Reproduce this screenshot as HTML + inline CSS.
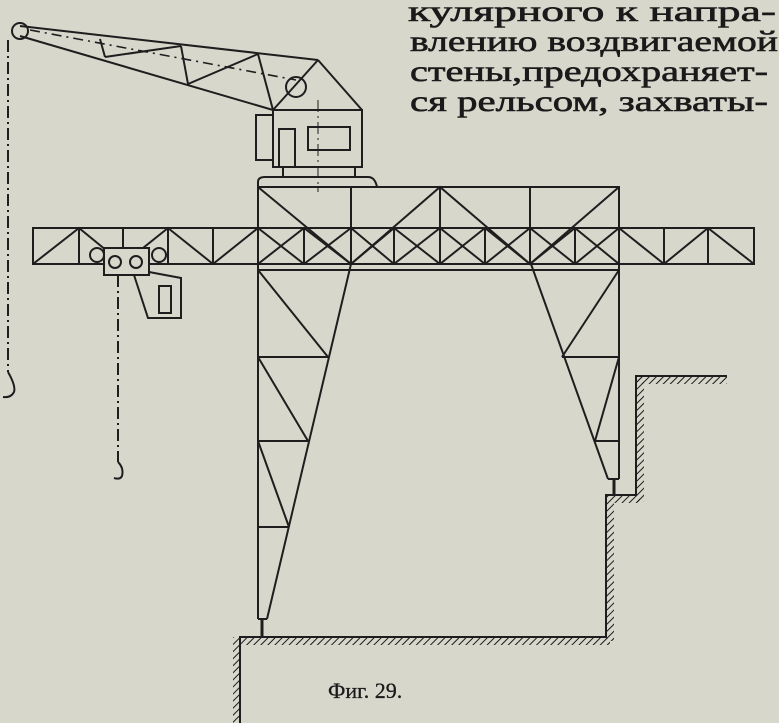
<!DOCTYPE html>
<html><head><meta charset="utf-8"><style>
html,body{margin:0;padding:0;background:#d8d7cc;}
svg{display:block}
text{font-family:"Liberation Serif","DejaVu Serif",serif;fill:#1a1a1a;stroke:#1a1a1a;stroke-width:0.6}
</style></head><body>
<svg width="779" height="723" viewBox="0 0 779 723" xmlns="http://www.w3.org/2000/svg">
<defs>
<pattern id="h" width="5" height="5" patternUnits="userSpaceOnUse" patternTransform="rotate(45)">
<line x1="0" y1="0" x2="0" y2="5" stroke="#1a1a1a" stroke-width="2"/>
</pattern>
</defs>
<rect width="779" height="723" fill="#d8d7cc"/>
<text x="408" y="21" font-size="30" textLength="368" lengthAdjust="spacingAndGlyphs">кулярного  к  напра-</text>
<text x="410" y="51" font-size="30" textLength="368" lengthAdjust="spacingAndGlyphs">влению воздвигаемой</text>
<text x="410" y="81" font-size="30" textLength="358" lengthAdjust="spacingAndGlyphs">стены,предохраняет-</text>
<text x="410" y="111" font-size="30" textLength="358" lengthAdjust="spacingAndGlyphs">ся рельсом,  захваты-</text>
<text x="328" y="698" font-size="22" style="stroke-width:0.3">Фиг. 29.</text>

<g stroke="#1e1e1e" stroke-width="2" fill="none">
<!-- jib -->
<circle cx="20" cy="31" r="8"/>
<line x1="20" y1="26" x2="318" y2="60"/>
<line x1="20" y1="36" x2="273" y2="110"/>
<line x1="100" y1="39" x2="105" y2="57"/><line x1="105" y1="57" x2="181" y2="46"/>
<line x1="181" y1="46" x2="188" y2="84"/><line x1="188" y1="84" x2="258" y2="54"/>
<line x1="258" y1="54" x2="273" y2="110"/><line x1="273" y1="110" x2="318" y2="60"/>
<circle cx="296" cy="87" r="10"/>
<line x1="30" y1="30" x2="296" y2="80" stroke-dasharray="10,5,2,5" stroke-width="1.6"/>
<!-- cabin -->
<line x1="318" y1="60" x2="362" y2="110"/>
<rect x="273" y="110" width="89" height="57"/>
<rect x="256" y="115" width="17" height="45"/>
<rect x="279" y="129" width="16" height="38"/>
<rect x="308" y="127" width="42" height="23"/>
<rect x="283" y="167" width="72" height="10"/>
<path d="M258 187 V182 Q258 177 265 177 H368 Q375 177 377 187"/>
<line x1="318" y1="100" x2="318" y2="192" stroke-dasharray="12,4,2,4" stroke-width="1"/>
<!-- portal top -->
<rect x="258" y="187" width="361" height="83"/>
<line x1="351" y1="187" x2="351" y2="264"/>
<line x1="440" y1="187" x2="440" y2="264"/>
<line x1="530" y1="187" x2="530" y2="264"/>
<polyline points="258,187 351,264 440,187 530,264 619,187"/>
<!-- main truss -->
<rect x="33" y="228" width="721" height="36"/>
<polyline points="33,264 79,228 123,264 168,228 213,264 258,228 304,264 351,228 394,264 440,228 485,264 530,228 575,264 619,228 664,264 708,228 754,264"/>
<polyline points="258,264 304,228 351,264 394,228 440,264 485,228 530,264 575,228 619,264"/>
<line x1="79" y1="228" x2="79" y2="264"/><line x1="123" y1="228" x2="123" y2="264"/>
<line x1="168" y1="228" x2="168" y2="264"/><line x1="213" y1="228" x2="213" y2="264"/>
<line x1="304" y1="228" x2="304" y2="264"/><line x1="394" y1="228" x2="394" y2="264"/>
<line x1="485" y1="228" x2="485" y2="264"/><line x1="575" y1="228" x2="575" y2="264"/>
<line x1="664" y1="228" x2="664" y2="264"/><line x1="708" y1="228" x2="708" y2="264"/>
<!-- trolley -->
<circle cx="97" cy="255" r="7" fill="#d8d7cc"/><circle cx="159" cy="255" r="7" fill="#d8d7cc"/>
<rect x="104" y="248" width="45" height="27" fill="#d8d7cc"/>
<circle cx="115" cy="262" r="6"/><circle cx="136" cy="262" r="6"/>
<polyline points="134,275 148,318 181,318 181,278 149,272"/>
<rect x="159" y="286" width="12" height="27"/>
<line x1="118" y1="275" x2="118" y2="462" stroke-dasharray="12,4,2,4"/>
<path d="M118 462 q6 6 4 14 q-2 4 -8 2"/>
<line x1="8" y1="40" x2="8" y2="372" stroke-dasharray="12,4,2,4"/>
<path d="M8 372 q8 14 6 20 q-3 6 -11 5"/>
<!-- left leg -->
<line x1="258" y1="270" x2="258" y2="619"/>
<line x1="351" y1="264" x2="267" y2="619"/>
<line x1="258" y1="619" x2="267" y2="619"/>
<line x1="262" y1="619" x2="262" y2="637" stroke-width="3"/>
<line x1="258" y1="357" x2="328" y2="357"/><line x1="258" y1="441" x2="308" y2="441"/><line x1="258" y1="527" x2="289" y2="527"/>
<line x1="258" y1="270" x2="328" y2="357"/><line x1="258" y1="357" x2="308" y2="441"/><line x1="258" y1="441" x2="289" y2="527"/>
<!-- right leg -->
<line x1="619" y1="270" x2="619" y2="479"/>
<line x1="531" y1="264" x2="608" y2="479"/>
<line x1="608" y1="479" x2="619" y2="479"/>
<line x1="614" y1="479" x2="614" y2="495" stroke-width="3"/>
<line x1="562" y1="357" x2="619" y2="357"/><line x1="595" y1="441" x2="619" y2="441"/>
<line x1="619" y1="270" x2="562" y2="357"/><line x1="619" y1="357" x2="595" y2="441"/>
<!-- ground -->
<polyline points="240,723 240,637 606,637 606,495 636,495 636,376 727,376" stroke-width="2"/>
</g>
<g fill="url(#h)">
<rect x="240" y="638" width="370" height="7"/>
<rect x="233" y="637" width="7" height="86"/>
<rect x="607" y="495" width="7" height="146"/>
<rect x="614" y="496" width="26" height="7"/>
<rect x="637" y="376" width="7" height="126"/>
<rect x="637" y="377" width="90" height="7"/>
</g>
</svg>
</body></html>
